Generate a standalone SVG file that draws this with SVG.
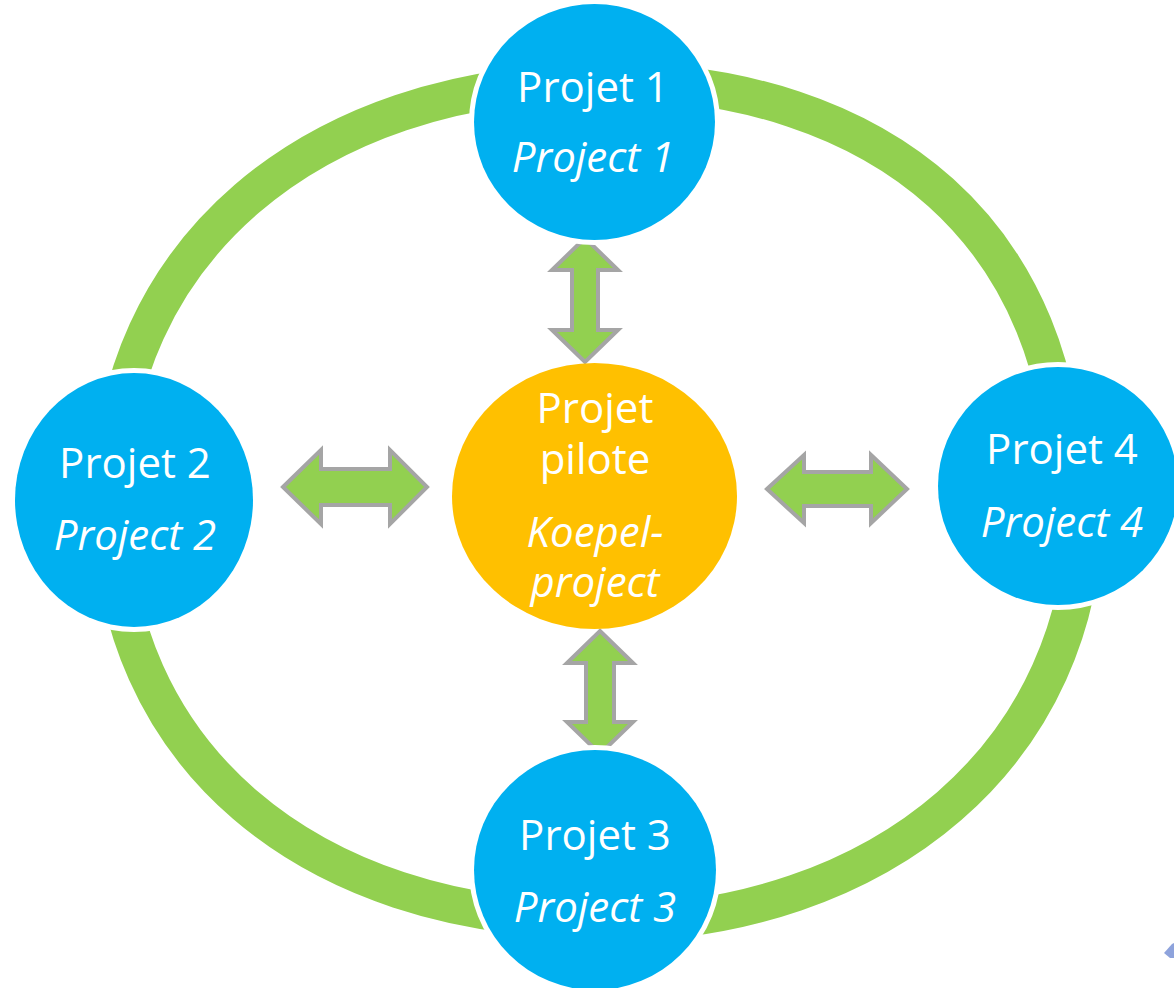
<svg xmlns="http://www.w3.org/2000/svg" width="1174" height="988" viewBox="0 0 1174 988">
<style>
.ring{fill:none;stroke:#92D050;stroke-width:37}
.node{fill:#00B0F0;stroke:#FFFFFF;stroke-width:10;paint-order:stroke}
.pilot{fill:#FFC000}
.arr{fill:#92D050;stroke:#A5A5A5;stroke-width:4;stroke-linejoin:miter}
.t{font-family:"Open Sans","Noto Sans","DejaVu Sans",sans-serif;font-size:42px;fill:#FFFFFF;text-anchor:middle}
.i{font-style:italic}
</style>
<rect width="1174" height="988" fill="#FFFFFF"/>
<g id="ring">
<path class="ring" d="M111,501 C111,253.8 310.7,82 598,82 M598,80 C888.2,80 1066,240 1066,501 M1085,501 C1085,750.6 885.3,924 598,924 M598,920 C305.8,920 111,752.4 111,501"/>
</g>
<g id="connectors">
<polygon class="arr" points="585,238 618,270 598,270 598,330 618,330 585,362 552,330 572,330 572,270 552,270"/>
<polygon class="arr" points="600,631 633,663 614,663 614,722 633,722 600,754 567,722 586,722 586,663 567,663"/>
<polygon class="arr" points="283,487 321,450 321,469 390,469 390,450 427,487 390,524 390,505 321,505 321,524"/>
<polygon class="arr" points="767,489 804,455 804,472 871,472 871,455 907,489 871,523 871,506 804,506 804,523"/>
</g>
<g id="projet1">
<ellipse class="node" cx="594.5" cy="122" rx="120.5" ry="118"/>
<text class="t" x="593" y="102">Projet 1</text>
<text class="t i" x="593" y="172">Project 1</text>
</g>
<g id="projet2">
<ellipse class="node" cx="134" cy="500" rx="119" ry="127"/>
<text class="t" x="135" y="478">Projet 2</text>
<text class="t i" x="135" y="550">Project 2</text>
</g>
<g id="projet4">
<ellipse class="node" cx="1058" cy="486" rx="120" ry="119"/>
<text class="t" x="1062" y="464">Projet 4</text>
<text class="t i" x="1062" y="537">Project 4</text>
</g>
<g id="projet3">
<ellipse class="node" cx="595" cy="870" rx="121" ry="120"/>
<text class="t" x="595" y="850">Projet 3</text>
<text class="t i" x="595" y="922">Project 3</text>
</g>
<g id="pilote">
<ellipse class="pilot" cx="594.5" cy="496" rx="142.5" ry="133"/>
<text class="t" x="595" y="423">Projet</text>
<text class="t" x="595" y="474">pilote</text>
<text class="t i" x="595" y="547">Koepel-</text>
<text class="t i" x="595" y="597">project</text>
</g>
<polygon points="1164,953 1172,944 1174,943 1174,958 1170,958" fill="#8EA3DC"/>
</svg>
